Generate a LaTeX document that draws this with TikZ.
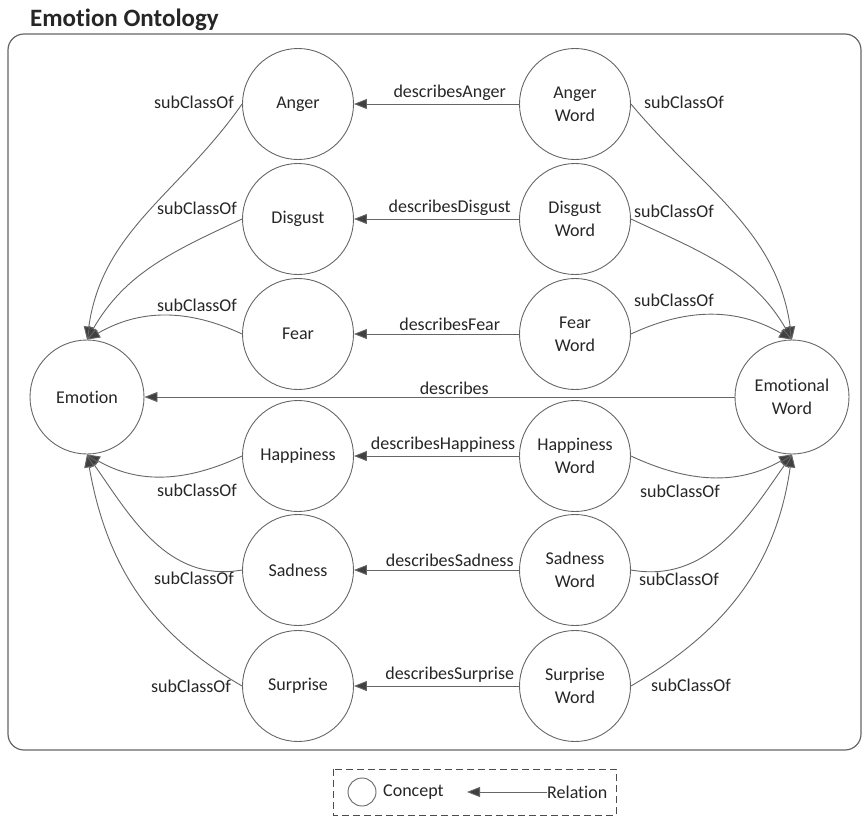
\documentclass[tikz,border=0pt]{standalone}
\usepackage{fontspec}
\setmainfont{Carlito}[Ligatures=NoCommon]
\usetikzlibrary{arrows.meta,positioning}

\begin{document}
\begin{tikzpicture}[
    x=1pt, y=-1pt,
    every node/.style={font=\fontsize{18}{23}\selectfont, text=black!85},
    concept/.style={draw=black!60, line width=0.9pt, circle, minimum size=111pt, inner sep=0pt, align=center},
    bigconcept/.style={concept, minimum size=114pt},
    rel/.style={draw=black!60, line width=0.9pt, -{Triangle[length=13pt, width=10pt, fill=black!75]}},
    lbl/.style={inner sep=1pt},
  ]
    \useasboundingbox (0,0) rectangle (863,817);

    % === Title and frame ===
    \node[font=\fontsize{25}{30}\selectfont\bfseries, anchor=west, inner sep=0pt] (title) at (30,20) {Emotion Ontology};
    \draw[draw=black!60, line width=1.2pt, rounded corners=16pt] (8,34) rectangle (861,750);

    % === Concepts ===
    \node[bigconcept] (Emotion) at (87,397) {Emotion};
    \node[bigconcept] (EmoWord) at (792,397) {Emotional\\Word};
    \foreach \nm/\yy/\pp in {Anger/104/0.42, Disgust/219/0.42, Fear/334/0.42, Happiness/456/0.46, Sadness/570/0.42, Surprise/686/0.42} {
      \node[concept] (\nm) at (298,\yy) {\nm};
      \node[concept] (\nm-word) at (575,\yy) {\nm\\Word};
      \draw[rel] (\nm-word) -- node[lbl, pos=\pp, above=2pt] {describes\nm} (\nm);
    }
    \draw[rel] (EmoWord) -- node[lbl, pos=0.475, above=1pt] {describes} (Emotion);

    % === subClassOf -> Emotion ===
    \draw[rel] (Anger.west) to[out=235, in=82] (Emotion.north);
    \draw[rel] (Disgust.west) to[out=205, in=60] (Emotion.north);
    \draw[rel] (Fear.west) to[out=155, in=30] (Emotion.north);
    \draw[rel] (Happiness.west) to[out=205, in=-30] (Emotion.south);
    \draw[rel] (Sadness.west) to[out=190, in=-55] (Emotion.south);
    \draw[rel] (Surprise.west) to[out=150, in=-80] (Emotion.south);
    \node[lbl] (sA) at (194,102) {subClassOf};
    \node[lbl] (sD) at (197,208) {subClassOf};
    \node[lbl] (sF) at (197,305) {subClassOf};
    \node[lbl] (sH) at (197,490) {subClassOf};
    \node[lbl] (sS) at (194,578) {subClassOf};
    \node[lbl] (sU) at (191,686) {subClassOf};

    % === subClassOf -> Emotional Word ===
    \draw[rel] (Anger-word.east) to[out=-50, in=98] (EmoWord.north);
    \draw[rel] (Disgust-word.east) to[out=-25, in=120] (EmoWord.north);
    \draw[rel] (Fear-word.east) to[out=25, in=150] (EmoWord.north);
    \draw[rel] (Happiness-word.east) to[out=-25, in=210] (EmoWord.south);
    \draw[rel] (Sadness-word.east) to[out=-10, in=235] (EmoWord.south);
    \draw[rel] (Surprise-word.east) to[out=30, in=262] (EmoWord.south);
    \node[lbl] (wA) at (684,102) {subClassOf};
    \node[lbl] (wD) at (674,211) {subClassOf};
    \node[lbl] (wF) at (674,300) {subClassOf};
    \node[lbl] (wH) at (680,491) {subClassOf};
    \node[lbl] (wS) at (679,579) {subClassOf};
    \node[lbl] (wU) at (691,685) {subClassOf};

    % === Legend ===
    \draw[draw=black!70, line width=0.9pt, dash pattern=on 7pt off 4pt] (333,769) rectangle (616,815);
    \node[concept, minimum size=28pt] (legc) at (362,792) {};
    \node[anchor=west, inner sep=0pt] (legct) at (383,792) {Concept};
    \node[anchor=west, inner sep=0pt] (legrt) at (547,792) {Relation};
    \coordinate (legtip) at (467,792);
    \draw[rel] (legrt.west) -- (legtip);
  \end{tikzpicture}
\end{document}
